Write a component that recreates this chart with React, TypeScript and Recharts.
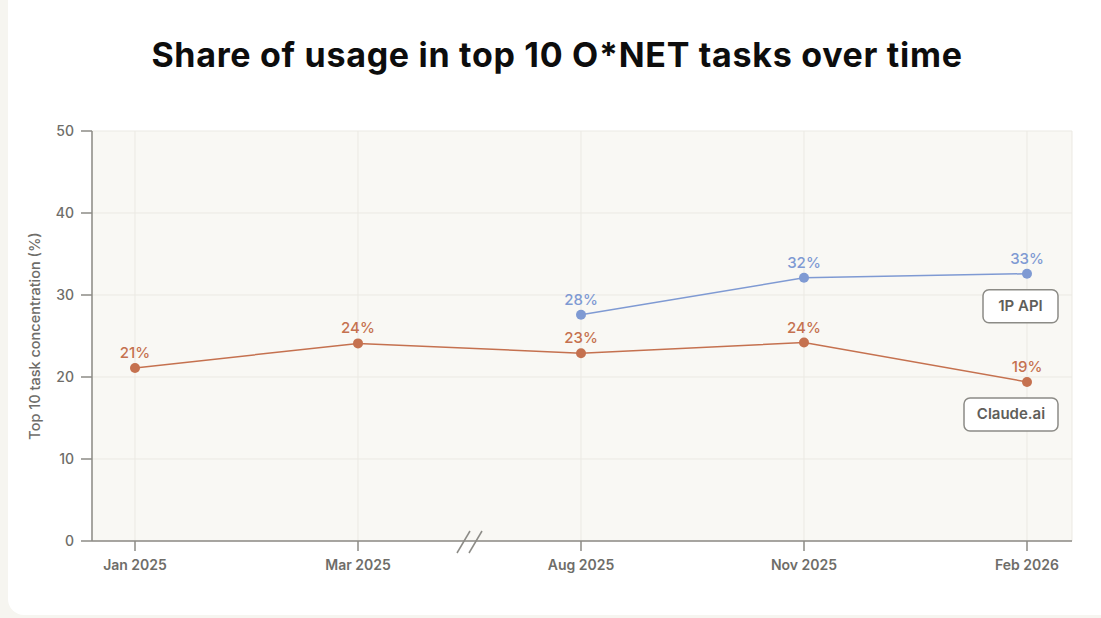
import React from 'react';
import { LineChart, Line, XAxis, YAxis, CartesianGrid, LabelList } from 'recharts';

const categories = ['Jan 2025', 'Mar 2025', 'Aug 2025', 'Nov 2025', 'Feb 2026'];
const claudeAi = [21.1, 24.1, 22.9, 24.2, 19.4];
const api1p: (number | null)[] = [null, null, 27.6, 32.1, 32.6];
const yTicks = [0, 10, 20, 30, 40, 50];

const data = categories.map((month, i) => ({ month, claude: claudeAi[i], api: api1p[i] }));

const ORANGE = '#c5714f';
const BLUE = '#7f9ad3';
const GRAY = '#6e6d69';
const AXIS = '#8c8b86';
const FONT = 'Inter, "Noto Sans", sans-serif';

const valueLabel = (color: string) => (props: any) => {
  const { x, y, value } = props;
  if (value == null || x == null) return null;
  return (
    <text x={x} y={y - 10} textAnchor="middle" fill={color} fontSize={15} fontWeight={500} fontFamily={FONT}>
      {Math.round(value)}%
    </text>
  );
};

const endBox = (name: string, width: number, lastIndex: number) => (props: any) => {
  const { x, y, index } = props;
  if (index !== lastIndex || x == null) return null;
  const right = x + 31;
  const left = right - width;
  const top = y + 16;
  return (
    <g>
      <rect x={left} y={top} width={width} height={33} rx={6} ry={6} fill="#ffffff" stroke={AXIS} strokeWidth={1.5} />
      <text x={left + width / 2} y={top + 21.5} textAnchor="middle" fill="#5f5e5a" fontSize={15} fontWeight={600} fontFamily={FONT}>
        {name}
      </text>
    </g>
  );
};

export default function App() {
  return (
    <div style={{ position: 'absolute', left: 0, top: 0, width: 1101, height: 618, background: '#f6f5f0', overflow: 'hidden', fontFamily: FONT }}>
      <div style={{ position: 'absolute', left: 8, top: -30, width: 1140, height: 645, background: '#ffffff', borderRadius: 16 }} />
      <div style={{ position: 'absolute', left: 0, top: 33, width: 1114, textAlign: 'center', fontSize: 34, fontWeight: 700, color: '#0d0d0d', letterSpacing: '0.7px', lineHeight: '44px', whiteSpace: 'nowrap' }}>
        Share of usage in top 10 O*NET tasks over time
      </div>
      <div style={{ position: 'absolute', left: 0, top: 0 }}>
        <LineChart width={1101} height={618} data={data} margin={{ top: 131, right: 29, bottom: 47, left: 32 }}>
          <CartesianGrid stroke="#ebe9e3" strokeWidth={1} fill="#f9f8f4" fillOpacity={1} />
          <XAxis
            dataKey="month"
            padding={{ left: 43, right: 45 }}
            height={30}
            tickSize={10}
            tickMargin={9}
            axisLine={{ stroke: AXIS, strokeWidth: 1.5 }}
            tickLine={{ stroke: AXIS, strokeWidth: 1.5 }}
            tick={{ fill: GRAY, fontSize: 14, fontWeight: 600, fontFamily: FONT }}
            interval={0}
          />
          <YAxis
            domain={[0, 50]}
            ticks={yTicks}
            width={60}
            tickSize={11}
            tickMargin={7}
            axisLine={{ stroke: AXIS, strokeWidth: 1.5 }}
            tickLine={{ stroke: AXIS, strokeWidth: 1.5 }}
            tick={{ fill: GRAY, fontSize: 14, fontWeight: 500, fontFamily: FONT }}
            label={{
              value: 'Top 10 task concentration (%)',
              angle: -90,
              position: 'insideLeft',
              dx: -2,
              style: { textAnchor: 'middle', fill: GRAY, fontSize: 14.5, fontWeight: 500, fontFamily: FONT },
            }}
          />
          <Line dataKey="claude" stroke={ORANGE} strokeWidth={1.5} dot={{ r: 5, fill: ORANGE, stroke: ORANGE, strokeWidth: 0 }} activeDot={false} isAnimationActive={false}>
            <LabelList dataKey="claude" content={valueLabel(ORANGE)} />
            <LabelList dataKey="claude" content={endBox('Claude.ai', 94, categories.length - 1)} />
          </Line>
          <Line dataKey="api" stroke={BLUE} strokeWidth={1.5} dot={{ r: 5, fill: BLUE, stroke: BLUE, strokeWidth: 0 }} activeDot={false} isAnimationActive={false}>
            <LabelList dataKey="api" content={valueLabel(BLUE)} />
            <LabelList dataKey="api" content={endBox('1P API', 75, categories.length - 1)} />
          </Line>
        </LineChart>
      </div>
      <svg style={{ position: 'absolute', left: 450, top: 525 }} width={40} height={35}>
        <line x1={7} y1={28} x2={20} y2={6} stroke={AXIS} strokeWidth={1.5} />
        <line x1={19} y1={28} x2={32} y2={6} stroke={AXIS} strokeWidth={1.5} />
      </svg>
    </div>
  );
}
